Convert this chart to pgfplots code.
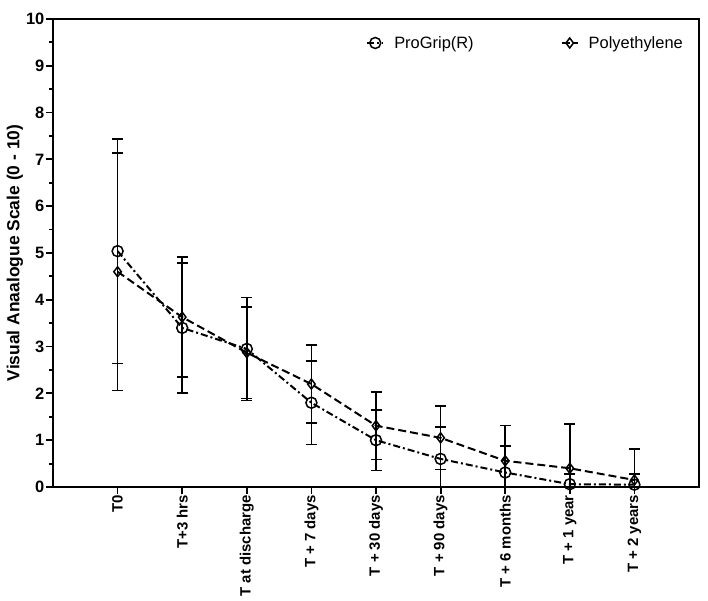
\documentclass[border=0pt]{standalone}
\usepackage{pgfplots}
\pgfplotsset{compat=1.18}
\usepackage{pgfplotstable}
\usepackage{fontspec}
\setmainfont{Liberation Sans}
\pgfplotstableread{
x y e
0 5.04 2.40
1 3.40 1.39
2 2.95 1.10
3 1.80 0.89
4 1.00 0.65
5 0.60 0.68
6 0.31 0.57
7 0.06 0.22
8 0.05 0.23
}\progrip
\pgfplotstableread{
x y e
0 4.60 2.54
1 3.63 1.28
2 2.87 0.98
3 2.20 0.83
4 1.31 0.72
5 1.05 0.68
6 0.56 0.75
7 0.40 0.94
8 0.15 0.66
}\poly
\begin{document}
\begin{tikzpicture}
\begin{axis}[
  width=646bp, height=468bp, scale only axis,
  xmin=-1, xmax=9, ymin=0, ymax=10,
  axis line style={line width=1.8bp},
  xtick={0,...,8},
  xticklabels={T0,T+3 hrs,T at discharge,T + 7 days,T + 30 days,T + 90 days,T + 6 months,T + 1 year,T + 2 years},
  x tick label style={rotate=90, anchor=east, inner sep=1bp, font=\fontsize{15}{17}\selectfont\bfseries},
  ytick={0,...,10},
  minor ytick={0.5,1.5,...,9.5},
  y tick label style={inner sep=1.5bp, font=\fontsize{16.5}{18}\selectfont\bfseries},
  /pgf/number format/assume math mode=true,
  tick style={black, line width=1.8bp},
  major tick length=7bp, minor tick length=4bp,
  tick align=outside,
  xtick pos=bottom, ytick pos=left,
  ylabel={Visual Anaalogue Scale (0 - 10)},
  ylabel style={font=\fontsize{17.5}{19}\selectfont\bfseries, yshift=-2bp},
  legend columns=2,
  legend style={draw=none, fill=none, at={(0.48,0.972)}, anchor=north west,
    font=\fontsize{16.5}{18}\selectfont,
    /tikz/every odd column/.append style={column sep=8bp},
    /tikz/every even column/.append style={column sep=85bp}},
  legend image code/.code={\draw[#1] (0bp,0bp) -- (16bp,0bp); \path[#1, solid] plot coordinates {(8bp,0bp)};},
  error bars/error bar style={solid, line width=1.6bp, black},
  error bars/error mark options={rotate=90, mark size=5.5bp, line width=1.6bp, solid},
]
\coordinate (bl) at (rel axis cs:0,0);
\coordinate (tr) at (rel axis cs:1,1);
\addplot[black, line width=2bp, dash pattern=on 7bp off 3bp on 2bp off 3bp,
  mark=o, mark size=5.5bp, mark options={solid, line width=1.5bp},
  error bars/.cd, y dir=both, y explicit]
  table[x=x, y=y, y error=e] {\progrip};
\addlegendentry{ProGrip(R)}
\addplot[black, line width=2bp, dash pattern=on 8bp off 4bp,
  mark=diamond, mark size=5bp, mark options={solid, line width=1.5bp},
  error bars/.cd, y dir=both, y explicit]
  table[x=x, y=y, y error=e] {\poly};
\addlegendentry{Polyethylene}
\end{axis}
\pgfresetboundingbox
\path ([shift={(-53bp,-114bp)}]bl) rectangle ([shift={(9bp,19bp)}]tr);
\end{tikzpicture}
\end{document}
